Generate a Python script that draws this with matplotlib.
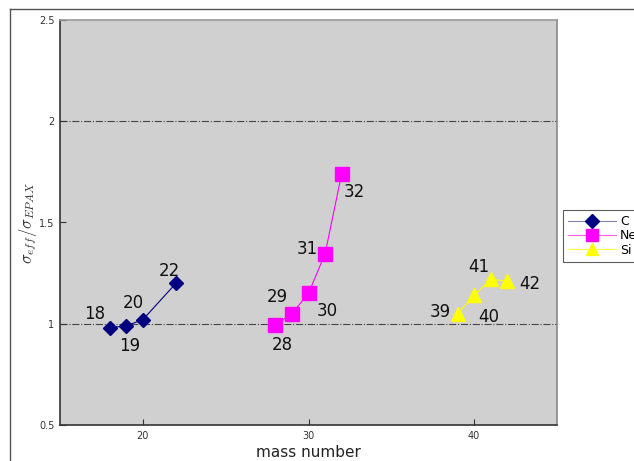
import matplotlib
matplotlib.use("Agg")
import matplotlib.pyplot as plt
from matplotlib.lines import Line2D

plt.rcParams['mathtext.fontset'] = 'cm'

c_mass = [18, 19, 20, 22]
c_vals = [0.98, 0.99, 1.02, 1.20]
ne_mass = [28, 29, 30, 31, 32]
ne_vals = [0.995, 1.05, 1.15, 1.345, 1.74]
si_mass = [39, 40, 41, 42]
si_vals = [1.05, 1.14, 1.22, 1.21]

c_offsets = [(-15, 14), (3, -20), (-10, 17), (-7, 12)]
ne_offsets = [(7, -20), (-15, 17), (19, -18), (-18, 5), (13, -18)]
si_offsets = [(-17, 2), (15, -22), (-12, 12), (23, -3)]

fig = plt.figure(figsize=(6.34, 4.61), dpi=100)
ax = fig.add_axes([60/634, 1-425/461, 497/634, 405/461])
ax.set_facecolor('#d0d0d0')

ax.plot(c_mass, c_vals, color='#000080', lw=0.8, marker='D', ms=7.5, mfc='#000080', mec='#000080', label='C')
ax.plot(ne_mass, ne_vals, color='#ff00ff', lw=0.8, marker='s', ms=10, mfc='#ff00ff', mec='#ff00ff', label='Ne')
ax.plot(si_mass, si_vals, color='#ffff00', lw=0.8, marker='^', ms=10, mfc='#ffff00', mec='#ffff00', label='Si')

for mass, vals, offs in [(c_mass, c_vals, c_offsets), (ne_mass, ne_vals, ne_offsets), (si_mass, si_vals, si_offsets)]:
    for m, v, o in zip(mass, vals, offs):
        ax.annotate(str(m), (m, v), xytext=o, textcoords='offset pixels',
                    ha='center', va='center', fontsize=12, color='#111111')

ax.set_xlim(15, 45)
ax.set_ylim(0.5, 2.5)
ax.set_xticks([20, 30, 40])
ax.set_yticks([0.5, 1, 1.5, 2, 2.5])
ax.set_yticklabels(['0.5', '1', '1.5', '2', '2.5'])
ax.tick_params(direction='in', labelsize=7, length=4, colors='#333333', pad=4)
for y in [1, 2]:
    ax.axhline(y, color='#444444', lw=0.8, ls='-.', zorder=1)

ax.spines['left'].set_color('#333333')
ax.spines['bottom'].set_color('#333333')
ax.spines['top'].set_color('#999999')
ax.spines['right'].set_color('#888888')
for s in ax.spines.values():
    s.set_linewidth(1.2)

ax.set_xlabel('mass number', fontsize=11, color='#222222')
ax.xaxis.set_label_coords(0.5, -(452-425)/405, transform=ax.transAxes)
ax.xaxis.label.set_va('center')
ax.set_ylabel(r'$\sigma_{eff}/\sigma_{EPAX}$', fontsize=12, color='#333333')
ax.yaxis.set_label_coords(-(60-28)/497, 0.5, transform=ax.transAxes)
ax.yaxis.label.set_va('center')

handles = [
    Line2D([], [], color='#8080b0', lw=0.8, marker='D', ms=7, mfc='#000080', mec='#000080'),
    Line2D([], [], color='#ff60ff', lw=0.8, marker='s', ms=9, mfc='#ff00ff', mec='#ff00ff'),
    Line2D([], [], color='#ffff40', lw=0.8, marker='^', ms=9, mfc='#ffff00', mec='#ffff00'),
]
leg = fig.legend(handles, ['C', 'Ne', 'Si'], loc='upper left',
                 bbox_to_anchor=(563/634, 1-210/461), fontsize=9,
                 frameon=True, fancybox=False, edgecolor='#333333',
                 handlelength=3.8, labelspacing=0.1, borderpad=0.4,
                 handletextpad=0.35, borderaxespad=0)
leg.get_frame().set_linewidth(0.8)

# outer frame
fig.add_artist(Line2D([10/634, 633/634], [1-9/461, 1-9/461], transform=fig.transFigure, color='#555555', lw=1.0))
fig.add_artist(Line2D([10/634, 10/634], [1-9/461, 0], transform=fig.transFigure, color='#555555', lw=1.0))

fig.savefig('out.png', dpi=100)
